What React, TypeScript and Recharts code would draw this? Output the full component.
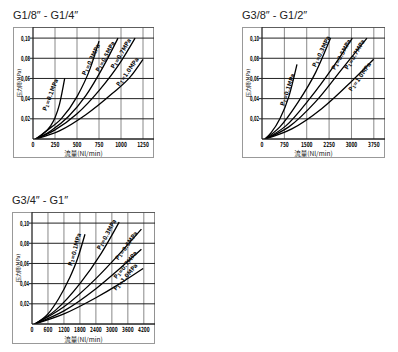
import React from "react";
import {
  ComposedChart,
  Line,
  Scatter,
  XAxis,
  YAxis,
  CartesianGrid,
} from "recharts";

// shared y axis (MPa)
const Y_TICKS = [0.02, 0.04, 0.06, 0.08, 0.1];
const Y_MAX = 0.111;
const PRESSURES = ["0.1", "0.3", "0.5", "0.7", "1.0"];

// G1/8" - G1/4"
const A_TICKS = [0, 250, 500, 750, 1000, 1250];
const A_CURVES: number[][][] = [
  [[30, 0], [100, 0.004], [200, 0.013], [250, 0.021], [300, 0.034], [360, 0.06]],
  [[30, 0], [150, 0.008], [320, 0.02], [500, 0.042], [650, 0.07], [750, 0.097]],
  [[30, 0], [200, 0.008], [400, 0.022], [600, 0.043], [800, 0.072], [966, 0.1]],
  [[30, 0], [250, 0.009], [500, 0.025], [750, 0.048], [1000, 0.077], [1160, 0.1]],
  [[30, 0], [300, 0.008], [600, 0.024], [900, 0.045], [1100, 0.061], [1250, 0.079]],
];
const A_LABEL_X = [189, 651, 814, 992, 1068];
const A_LABEL_Y = [0.044, 0.079, 0.082, 0.085, 0.067];
const A_LABEL_ANGLE = [-70, -65, -62, -60, -55];

// G3/8" - G1/2"
const B_TICKS = [0, 750, 1500, 2250, 3000, 3750];
const B_CURVES: number[][][] = [
  [[100, 0], [300, 0.006], [600, 0.02], [900, 0.042], [1173, 0.074]],
  [[100, 0], [600, 0.012], [1200, 0.036], [1800, 0.066], [2300, 0.1]],
  [[100, 0], [800, 0.013], [1600, 0.04], [2400, 0.072], [3030, 0.1]],
  [[100, 0], [900, 0.012], [1800, 0.037], [2700, 0.07], [3520, 0.1]],
  [[100, 0], [1000, 0.01], [2000, 0.03], [3000, 0.057], [3745, 0.079]],
];
const B_LABEL_X = [835, 1962, 2639, 3090, 3259];
const B_LABEL_Y = [0.049, 0.087, 0.084, 0.084, 0.062];
const B_LABEL_ANGLE = [-72, -65, -62, -60, -55];

// G3/4" - G1"
const C_TICKS = [0, 600, 1200, 1800, 2400, 3000, 3600, 4200];
const C_CURVES: number[][][] = [
  [[100, 0], [600, 0.01], [1000, 0.025], [1400, 0.045], [1700, 0.064], [1990, 0.089]],
  [[100, 0], [900, 0.014], [1800, 0.04], [2600, 0.07], [3275, 0.101]],
  [[100, 0], [1200, 0.017], [2400, 0.045], [3300, 0.07], [4110, 0.094]],
  [[100, 0], [1200, 0.013], [2400, 0.035], [3300, 0.055], [4110, 0.074]],
  [[100, 0], [1200, 0.01], [2400, 0.026], [3300, 0.04], [4175, 0.055]],
];
const C_LABEL_X = [1575, 2775, 3525, 3487, 3487];
const C_LABEL_Y = [0.074, 0.089, 0.078, 0.059, 0.047];
const C_LABEL_ANGLE = [-75, -62, -55, -52, -50];

const TICK_FONT = "'DejaVu Sans Condensed', 'Liberation Sans', sans-serif";

// squeezed digits, like the condensed face in the scan
function XTick(props: any) {
  const { x, y, payload } = props;
  const s = String(payload.value);
  return (
    <text
      x={x}
      y={y + 6}
      textAnchor="middle"
      fontSize={7}
      fontWeight="bold"
      fontFamily={TICK_FONT}
      fill="#111"
      textLength={s.length * 2.9}
      lengthAdjust="spacingAndGlyphs"
    >
      {s}
    </text>
  );
}

function YTick(props: any) {
  const { x, y, payload } = props;
  const s = payload.value.toFixed(2).replace(".", ",");
  return (
    <text
      x={x}
      y={y + 2.5}
      textAnchor="end"
      fontSize={7}
      fontWeight="bold"
      fontFamily={TICK_FONT}
      fill="#111"
      textLength={9}
      lengthAdjust="spacingAndGlyphs"
    >
      {s}
    </text>
  );
}

function CurveLabel(props: any) {
  const { cx, cy, payload } = props;
  if (cx == null || cy == null) return <g />;
  return (
    <text
      x={cx}
      y={cy}
      transform={`rotate(${payload.angle} ${cx} ${cy})`}
      textAnchor="middle"
      dominantBaseline="central"
      fontSize={6}
      fontWeight="bold"
      fontFamily={TICK_FONT}
      fill="#111"
    >
      P
      <tspan fontSize={4.5} dy={1.5}>1</tspan>
      <tspan dy={-1.5}>{`=${payload.p}MPa`}</tspan>
    </text>
  );
}

function YLabel(props: any) {
  const { viewBox } = props;
  const x = viewBox.x + 5;
  const y = viewBox.y + viewBox.height / 2;
  return (
    <text
      x={x}
      y={y}
      transform={`rotate(-90 ${x} ${y})`}
      textAnchor="middle"
      dominantBaseline="central"
      fontSize={5}
      fill="#111"
      fontFamily="'Noto Sans CJK SC', sans-serif"
    >
      压力降(MPa)
    </text>
  );
}

interface PanelProps {
  left: number;
  top: number;
  width: number;
  height: number;
  axisH: number;
  title: string;
  xMax: number;
  ticks: number[];
  curves: number[][][];
  labelX: number[];
  labelY: number[];
  labelAngle: number[];
}

function Panel(p: PanelProps) {
  const labels = PRESSURES.map((pr, i) => ({
    x: p.labelX[i],
    y: p.labelY[i],
    angle: p.labelAngle[i],
    p: pr,
  }));
  return (
    <>
      <div
        style={{
          position: "absolute",
          left: p.left,
          top: p.top - 18,
          fontFamily: "'Liberation Sans', Arial, sans-serif",
          fontSize: 11,
          lineHeight: "13px",
          color: "#222",
          whiteSpace: "nowrap",
        }}
      >
        {p.title}
      </div>
      <div
        style={{
          position: "absolute",
          left: p.left,
          top: p.top,
          width: p.width,
          height: p.height,
          border: "1px solid #999",
          boxSizing: "border-box",
        }}
      />
      <div style={{ position: "absolute", left: p.left, top: p.top }}>
        <ComposedChart
          width={p.width}
          height={p.height}
          margin={{ top: 0, right: 0, bottom: 0, left: 0 }}
        >
          <CartesianGrid horizontal={false} stroke="#888" strokeWidth={1} />
          <CartesianGrid vertical={false} stroke="#222" strokeWidth={1} />
          <XAxis
            dataKey="x"
            type="number"
            domain={[0, p.xMax]}
            ticks={p.ticks}
            allowDataOverflow
            height={p.axisH}
            stroke="#222"
            tickLine={false}
            tickSize={0}
            tick={<XTick />}
            interval={0}
          />
          <YAxis
            type="number"
            domain={[0, Y_MAX]}
            ticks={Y_TICKS}
            allowDataOverflow
            width={20}
            stroke="#222"
            tickSize={3}
            tickMargin={0}
            tick={<YTick />}
            label={{ content: <YLabel /> }}
            interval={0}
          />
          {p.curves.map((c, i) => (
            <Line
              key={i}
              data={c.map(([x, y]) => ({ x, y }))}
              dataKey="y"
              type="monotone"
              stroke="#000"
              strokeWidth={1.3}
              dot={false}
              isAnimationActive={false}
            />
          ))}
          <Scatter
            data={labels}
            dataKey="y"
            shape={<CurveLabel />}
            isAnimationActive={false}
          />
        </ComposedChart>
      </div>
      <div
        style={{
          position: "absolute",
          left: p.left,
          top: p.top + p.height - 8,
          width: p.width,
          textAlign: "center",
          fontFamily: "'Noto Sans CJK SC', sans-serif",
          fontSize: 6.5,
          lineHeight: "7px",
          color: "#111",
        }}
      >
        流量(Nl/min)
      </div>
    </>
  );
}

export default function App() {
  return (
    <div
      style={{
        position: "absolute",
        left: 0,
        top: 0,
        width: 398,
        height: 352,
        background: "#fff",
      }}
    >
      <Panel
        left={13}
        top={27}
        width={141}
        height={131}
        axisH={19}
        title={"G1/8\u2033 - G1/4\u2033"}
        xMax={1375}
        ticks={A_TICKS}
        curves={A_CURVES}
        labelX={A_LABEL_X}
        labelY={A_LABEL_Y}
        labelAngle={A_LABEL_ANGLE}
      />
      <Panel
        left={242}
        top={27}
        width={143}
        height={131}
        axisH={19}
        title={"G3/8\u2033 - G1/2\u2033"}
        xMax={4125}
        ticks={B_TICKS}
        curves={B_CURVES}
        labelX={B_LABEL_X}
        labelY={B_LABEL_Y}
        labelAngle={B_LABEL_ANGLE}
      />
      <Panel
        left={12}
        top={212}
        width={143}
        height={132}
        axisH={20}
        title={"G3/4\u2033 - G1\u2033"}
        xMax={4620}
        ticks={C_TICKS}
        curves={C_CURVES}
        labelX={C_LABEL_X}
        labelY={C_LABEL_Y}
        labelAngle={C_LABEL_ANGLE}
      />
    </div>
  );
}
